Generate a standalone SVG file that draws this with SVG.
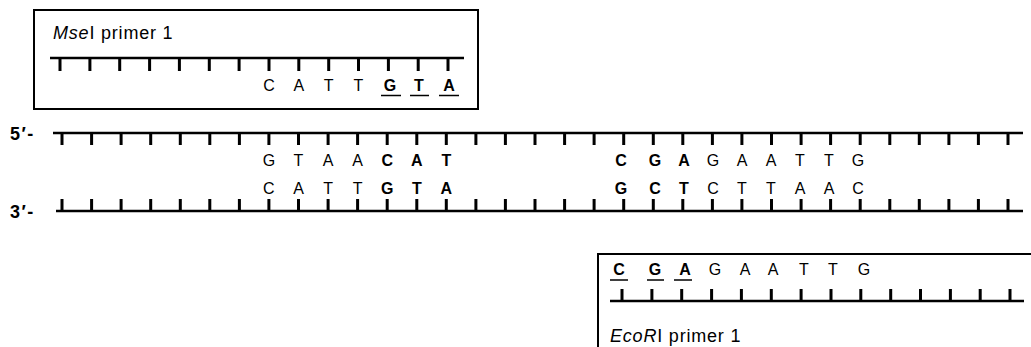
<svg xmlns="http://www.w3.org/2000/svg" width="1031" height="347" viewBox="0 0 1031 347">
<style>
.bg{fill:#fff}
.box{fill:none;stroke:#000;stroke-width:2}
.bb{fill:none;stroke:#000;stroke-width:2.6}
.tk{fill:none;stroke:#000;stroke-width:3}
.ul{stroke:#000;stroke-width:1.6}
.lab{font-family:"Liberation Sans",Arial,sans-serif;font-size:18px;letter-spacing:0.8px;fill:#000}
.seq{font-family:"Liberation Sans",Arial,sans-serif;font-size:16px;fill:#000;text-anchor:middle}
.b{font-weight:bold}
.end{font-family:"Liberation Sans",Arial,sans-serif;font-size:18px;font-weight:bold;letter-spacing:1.5px;fill:#000}
</style>
<rect class="bg" x="0" y="0" width="1031" height="347"/>

<g id="msei-primer">
<rect class="box" x="34" y="10" width="444" height="99"/>
<text class="lab" x="53" y="39"><tspan font-style="italic">Mse</tspan>I primer 1</text>
<path class="bb" d="M50,58H464"/>
<path class="tk" d="M60,58V71M89.9,58V71M119.7,58V71M149.6,58V71M179.4,58V71M209.3,58V71M239.1,58V71M269,58V71M298.8,58V71M328.7,58V71M358.5,58V71M388.4,58V71M418.2,58V71M448,58V71"/>
<text class="seq" x="269" y="91">C</text>
<text class="seq" x="298.8" y="91">A</text>
<text class="seq" x="328.7" y="91">T</text>
<text class="seq" x="358.5" y="91">T</text>
<text class="seq b" x="390" y="91">G</text>
<text class="seq b" x="419" y="91">T</text>
<text class="seq b" x="449" y="91">A</text>
<path class="ul" d="M381,95.5H401M410,95.5H429M439,95.5H459"/>
</g>

<g id="top-strand">
<text class="end" x="10" y="140">5′-</text>
<path class="bb" d="M53,133H1023"/>
<path class="tk" d="M62,133V145M91.6,133V145M121.1,133V145M150.7,133V145M180.3,133V145M209.8,133V145M239.4,133V145M268.9,133V145M298.5,133V145M328.1,133V145M357.6,133V145M387.2,133V145M416.8,133V145M446.3,133V145M475.9,133V145M505.4,133V145M535,133V145M564.6,133V145M594.1,133V145M623.7,133V145M653.3,133V145M682.8,133V145M712.4,133V145M741.9,133V145M771.5,133V145M801.1,133V145M830.6,133V145M860.2,133V145M889.8,133V145M919.3,133V145M948.9,133V145M978.4,133V145M1008,133V145"/>
<text class="seq" x="268.9" y="166">G</text>
<text class="seq" x="298.5" y="166">T</text>
<text class="seq" x="328.1" y="166">A</text>
<text class="seq" x="357.6" y="166">A</text>
<text class="seq b" x="387.2" y="166">C</text>
<text class="seq b" x="416.8" y="166">A</text>
<text class="seq b" x="446.3" y="166">T</text>
<text class="seq b" x="621" y="166">C</text>
<text class="seq b" x="655" y="166">G</text>
<text class="seq b" x="684" y="166">A</text>
<text class="seq" x="713" y="166">G</text>
<text class="seq" x="742" y="166">A</text>
<text class="seq" x="771" y="166">A</text>
<text class="seq" x="800" y="166">T</text>
<text class="seq" x="829" y="166">T</text>
<text class="seq" x="858" y="166">G</text>
</g>

<g id="bottom-strand">
<text class="seq" x="268.9" y="194">C</text>
<text class="seq" x="298.5" y="194">A</text>
<text class="seq" x="328.1" y="194">T</text>
<text class="seq" x="357.6" y="194">T</text>
<text class="seq b" x="387.2" y="194">G</text>
<text class="seq b" x="416.8" y="194">T</text>
<text class="seq b" x="446.3" y="194">A</text>
<text class="seq b" x="621" y="194">G</text>
<text class="seq b" x="655" y="194">C</text>
<text class="seq b" x="684" y="194">T</text>
<text class="seq" x="713" y="194">C</text>
<text class="seq" x="742" y="194">T</text>
<text class="seq" x="771" y="194">T</text>
<text class="seq" x="800" y="194">A</text>
<text class="seq" x="829" y="194">A</text>
<text class="seq" x="858" y="194">C</text>
<text class="end" x="10" y="218">3′-</text>
<path class="bb" d="M56,211H1023"/>
<path class="tk" d="M62,199V211M91.6,199V211M121.1,199V211M150.7,199V211M180.3,199V211M209.8,199V211M239.4,199V211M268.9,199V211M298.5,199V211M328.1,199V211M357.6,199V211M387.2,199V211M416.8,199V211M446.3,199V211M475.9,199V211M505.4,199V211M535,199V211M564.6,199V211M594.1,199V211M623.7,199V211M653.3,199V211M682.8,199V211M712.4,199V211M741.9,199V211M771.5,199V211M801.1,199V211M830.6,199V211M860.2,199V211M889.8,199V211M919.3,199V211M948.9,199V211M978.4,199V211M1008,199V211"/>
</g>

<g id="ecori-primer">
<path class="box" d="M598,347V254H1031"/>
<text class="seq b" x="619" y="275">C</text>
<text class="seq b" x="655" y="275">G</text>
<text class="seq b" x="685" y="275">A</text>
<text class="seq" x="715" y="275">G</text>
<text class="seq" x="745" y="275">A</text>
<text class="seq" x="773" y="275">A</text>
<text class="seq" x="804" y="275">T</text>
<text class="seq" x="833" y="275">T</text>
<text class="seq" x="864" y="275">G</text>
<path class="ul" d="M610,280H628M647,280H664M674,280H692"/>
<path class="bb" d="M610,301H1024"/>
<path class="tk" d="M622,289V301M651.9,289V301M681.7,289V301M711.6,289V301M741.4,289V301M771.3,289V301M801.1,289V301M831,289V301M860.8,289V301M890.7,289V301M920.5,289V301M950.4,289V301M980.2,289V301M1010,289V301"/>
<text class="lab" x="610" y="342"><tspan font-style="italic">EcoR</tspan>I primer 1</text>
</g>

<g id="connectors"></g>
</svg>
